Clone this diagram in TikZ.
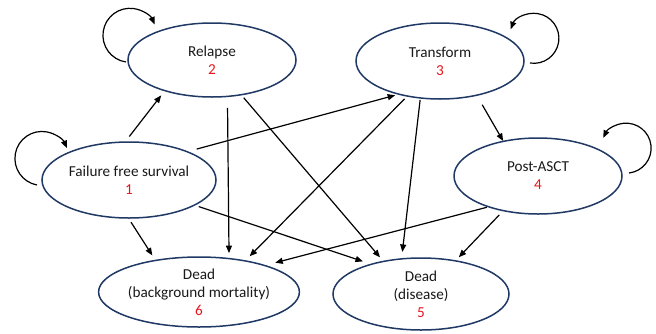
\documentclass[tikz,border=0pt]{standalone}
\usepackage{fontspec}
\setmainfont{Carlito}
\usetikzlibrary{arrows.meta,shapes.geometric}
\definecolor{navy}{HTML}{1F3864}
\definecolor{numred}{HTML}{E8141C}
\tikzset{
  state/.style={ellipse,draw=navy,line width=1.5pt,inner sep=0pt,outer sep=0pt,
    align=center,font=\fontsize{15.2}{18}\selectfont,text=black!90},
  arr/.style={line width=1.2pt,-{Triangle[length=7.5pt,width=6pt]}},
}
\newcommand{\nr}[1]{\textcolor{numred}{#1}}
\begin{document}
\begin{tikzpicture}[x=1pt,y=1pt]
\useasboundingbox (0,0) rectangle (656,-333);
\node[state,minimum width=168pt,minimum height=74pt] (rel) at (212,-60) {Relapse\\\nr{2}};
\node[state,minimum width=168pt,minimum height=76pt] (tra) at (440,-61) {Transform\\\nr{3}};
\node[state,minimum width=174pt,minimum height=76pt] (ffs) at (129,-180) {Failure free survival\\\nr{1}};
\node[state,minimum width=168pt,minimum height=76pt] (pa) at (538,-176) {Post-ASCT\\\nr{4}};
\node[state,minimum width=174pt,minimum height=70pt] (dbg) at (199,-292) {Dead\\(background mortality)\\\nr{6}};
\node[state,minimum width=176pt,minimum height=72pt] (dd) at (421,-294) {Dead\\(disease)\\\nr{5}};
% transitions
\draw[arr,shorten <=7pt,shorten >=6pt] (ffs.96) -- (rel.213.7);
\draw[arr,shorten <=10pt,shorten >=4pt] (ffs.26.6) -- (tra.219.3);
\draw[arr,shorten <=5pt,shorten >=6pt] (ffs.269) -- (dbg.144.7);
\draw[arr,shorten <=4.6pt,shorten >=9pt] (ffs.-21.4) -- (dd.149.6);
\draw[arr,shorten <=11.6pt,shorten >=5.5pt] (rel.-67) -- (dbg.48.3);
\draw[arr,shorten <=4pt,shorten >=5.4pt] (rel.-50.8) -- (dd.139.4);
\draw[arr,shorten <=4pt,shorten >=6.5pt] (tra.227.4) -- (dbg.34.8);
\draw[arr,shorten <=2pt,shorten >=7pt] (tra.242.9) -- (dd.119.3);
\draw[arr,shorten <=11pt,shorten >=0.5pt] (tra.-43.7) -- (pa.135);
\draw[arr,shorten <=2pt,shorten >=11pt] (pa.212.6) -- (dbg.22.2);
\draw[arr,shorten <=6pt,shorten >=5pt] (pa.225.7) -- (dd.44.2);
% self loops
\draw[arr] ([shift={(-2,-2)}]rel.west) arc[start angle=261.6,end angle=23.7,radius=27pt];
\draw[arr] ([shift={(-5,-5)}]ffs.west) arc[start angle=259.5,end angle=22.6,radius=27pt];
\draw[arr] ([shift={(6,-2)}]tra.east) arc[start angle=-99,end angle=158.6,radius=25pt];
\draw[arr] ([shift={(7,3)}]pa.east) arc[start angle=-83.4,end angle=155.6,radius=25pt];
\end{tikzpicture}
\end{document}
